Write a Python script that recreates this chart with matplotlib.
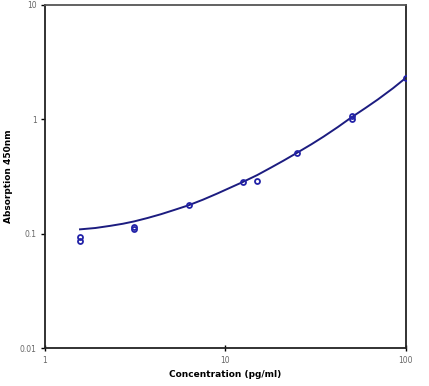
import matplotlib.pyplot as plt
import matplotlib.ticker as mticker

# Pontos medidos (duplicatas)
conc = [1.5625, 1.5625, 3.125, 3.125, 6.25, 12.5, 15, 25, 50, 50, 100]
absorb = [0.087, 0.093, 0.110, 0.115, 0.178, 0.285, 0.287, 0.51, 1.00, 1.06, 2.31]

# Curva ajustada
curve_x = [1.5625, 1.9, 2.3, 2.7, 3.125, 3.7, 4.4, 5.2, 6.25, 7.5, 9, 10.5, 12.5,
           15, 18, 21, 25, 30, 35, 42, 50, 60, 70, 85, 100]
curve_y = [0.109, 0.112, 0.117, 0.122, 0.128, 0.137, 0.148, 0.161, 0.177, 0.198,
           0.224, 0.250, 0.283, 0.325, 0.380, 0.435, 0.510, 0.605, 0.705, 0.855,
           1.04, 1.26, 1.49, 1.87, 2.30]

x_ticks = [1, 10, 100]
x_labels = ['1', '10', '100']
y_ticks = [0.01, 0.1, 1, 10]
y_labels = ['0.01', '0.1', '1', '10']

fig = plt.figure(figsize=(4.29, 3.86), dpi=100)
ax = fig.add_axes([0.105, 0.0984, 0.841, 0.889])

ax.plot(curve_x, curve_y, color='#1c1c80', linewidth=1.4, zorder=2)
ax.plot(conc, absorb, linestyle='none', marker='o', markersize=3.6,
        markerfacecolor='none', markeredgecolor='#2323a8', markeredgewidth=1.3, zorder=3)

ax.set_xscale('log')
ax.set_yscale('log')
ax.set_xlim(1, 100)
ax.set_ylim(0.01, 10)
ax.xaxis.set_major_locator(mticker.FixedLocator(x_ticks))
ax.xaxis.set_major_formatter(mticker.FixedFormatter(x_labels))
ax.yaxis.set_major_locator(mticker.FixedLocator(y_ticks))
ax.yaxis.set_major_formatter(mticker.FixedFormatter(y_labels))
ax.xaxis.set_minor_locator(mticker.NullLocator())
ax.yaxis.set_minor_locator(mticker.NullLocator())

for s in ax.spines.values():
    s.set_linewidth(1.3)
    s.set_color('#222222')
ax.spines['top'].set_color('#555555')
ax.tick_params(axis='both', direction='out', length=3, width=1.0,
               labelsize=5.5, labelcolor='#666666', pad=3)
ax.tick_params(axis='x', direction='inout', length=5)

ax.set_xlabel('Concentration (pg/ml)', fontsize=6.5, fontweight='bold')
ax.set_ylabel('Absorption 450nm', fontsize=6.5, fontweight='bold')
ax.xaxis.set_label_coords(0.5, -0.063)
ax.yaxis.set_label_coords(-0.088, 0.5)

fig.savefig('out.png', dpi=100)
